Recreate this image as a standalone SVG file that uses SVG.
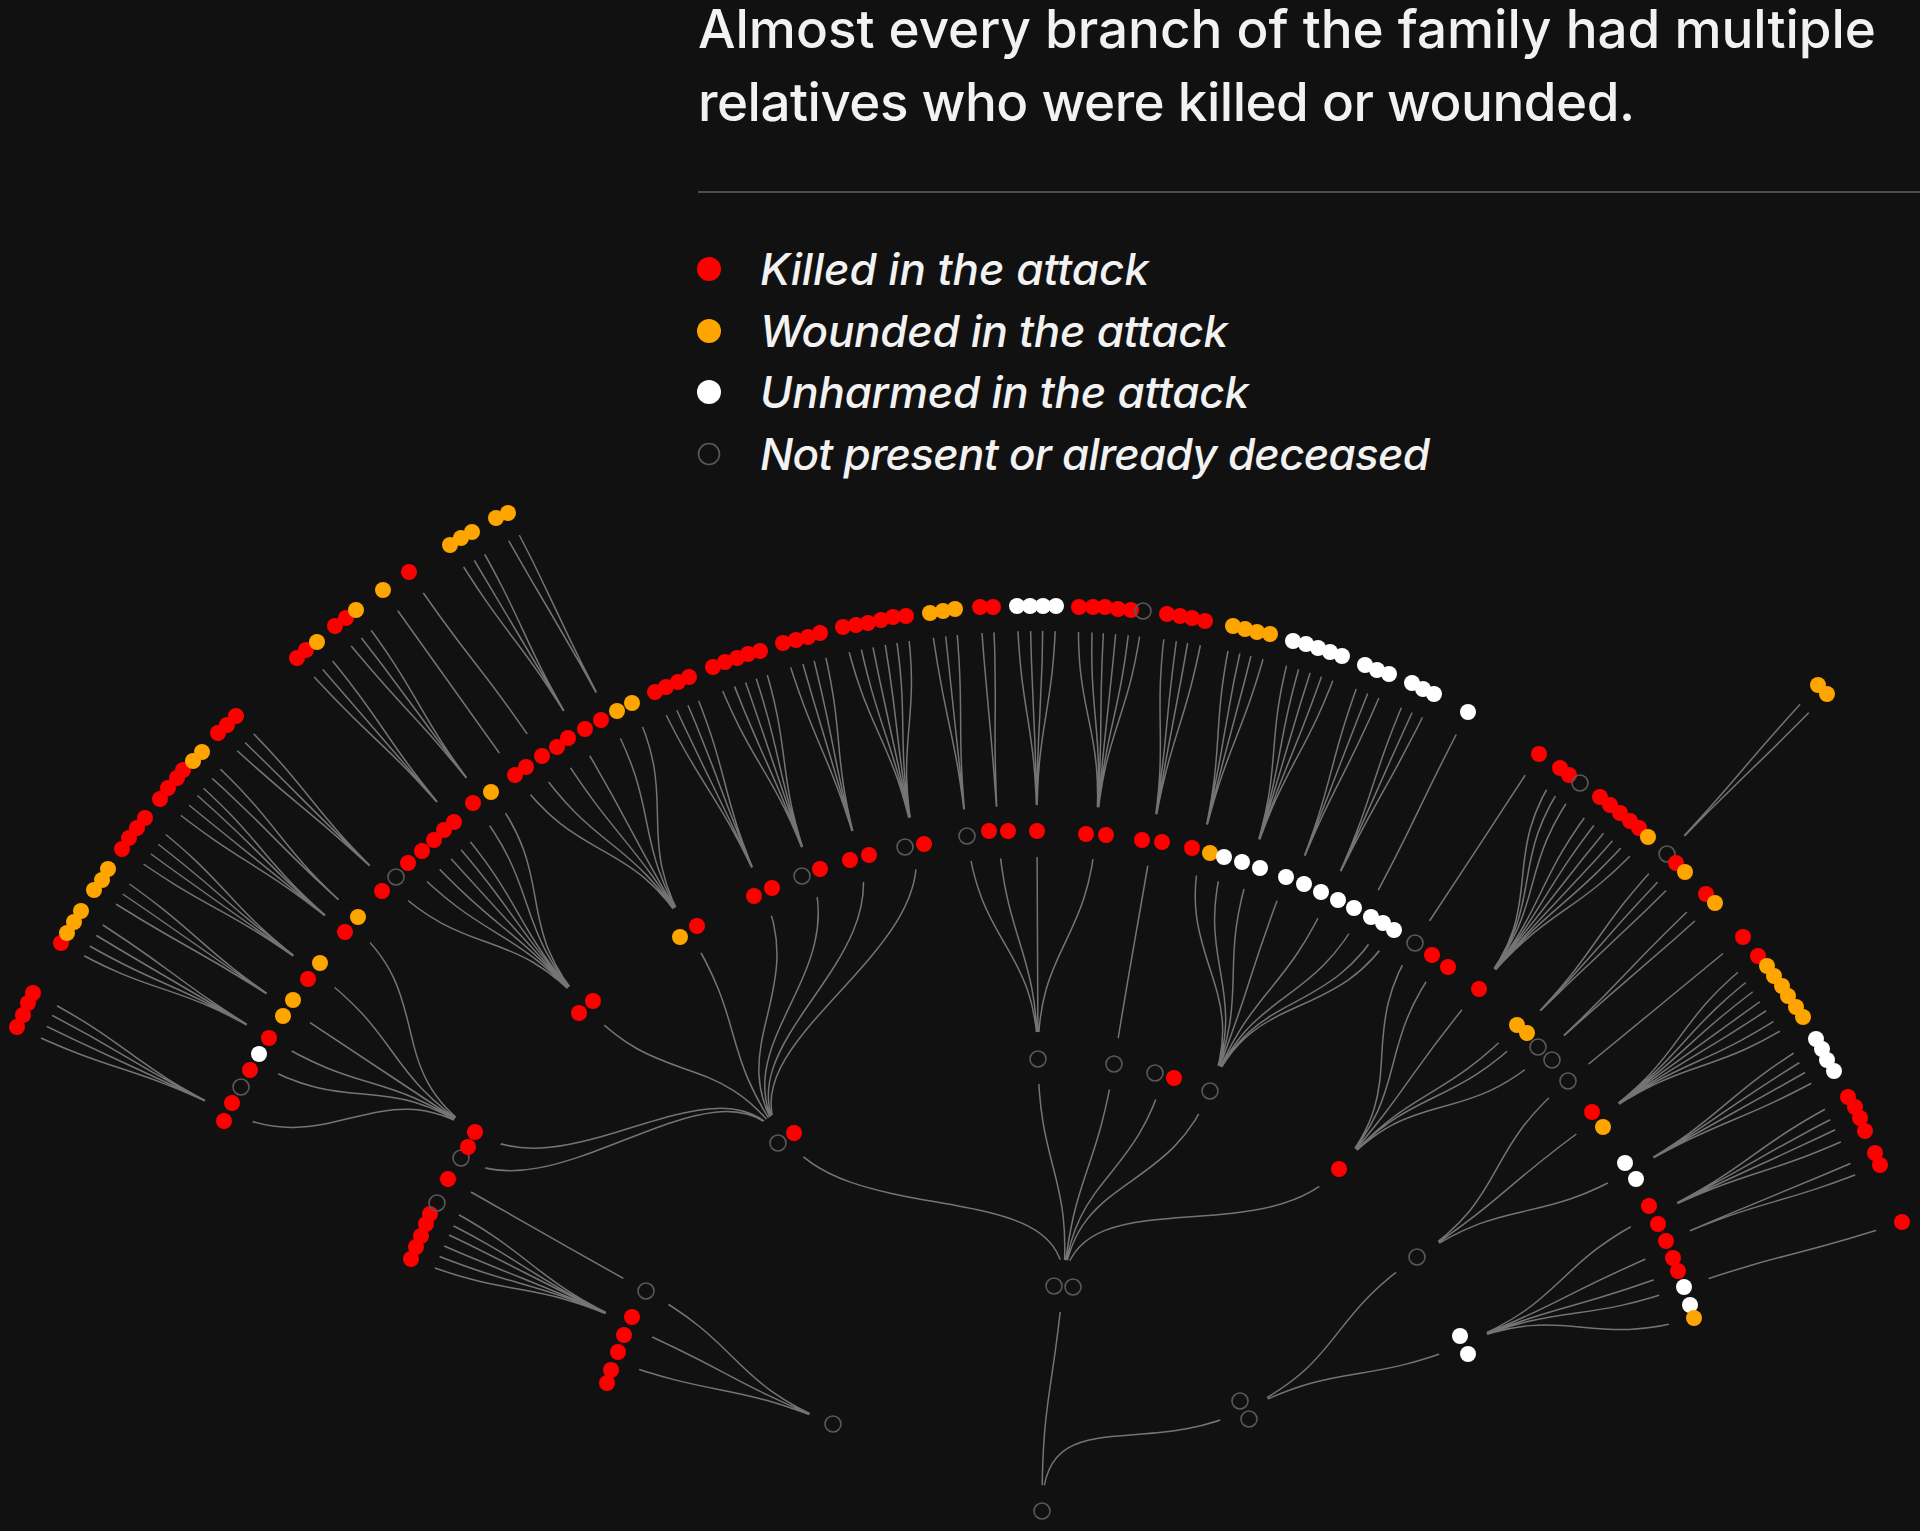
<svg xmlns="http://www.w3.org/2000/svg" width="1920" height="1531" viewBox="0 0 1920 1531">
<style>
.t{font-family:Inter,"Liberation Sans",Arial,sans-serif;font-weight:500;fill:#f2f2f2}
.lg{font-family:Inter,"Liberation Sans",Arial,sans-serif;font-weight:500;font-style:italic;fill:#f2f2f2;font-size:44px}
.r{fill:#ff0000}.o{fill:#ffa500}.w{fill:#ffffff}.h{fill:none;stroke:#595959;stroke-width:1.6}
.lk{fill:none;stroke:#808080;stroke-width:1.5;stroke-opacity:0.9}
</style>
<defs>
<mask id="gap" maskUnits="userSpaceOnUse" x="0" y="0" width="1920" height="1531">
<rect x="0" y="0" width="1920" height="1531" fill="#fff"/>
<g fill="none" stroke="#000" stroke-width="52">
<circle cx="1042" cy="1511" r="226"/><circle cx="1042" cy="1511" r="453"/><circle cx="1042" cy="1511" r="680"/><circle cx="1042" cy="1511" r="906"/><circle cx="1042" cy="1511" r="1133"/>
</g>
<circle cx="1042" cy="1511" r="26" fill="#000"/>
</mask>
</defs>
<rect width="1920" height="1531" fill="#111111"/>
<g id="title">
<text class="t" x="698" y="48" font-size="53" textLength="1178" lengthAdjust="spacing">Almost every branch of the family had multiple</text>
<text class="t" x="698" y="121" font-size="53" textLength="937" lengthAdjust="spacing">relatives who were killed or wounded.</text>
<line x1="698" y1="192" x2="1920" y2="192" stroke="#4d4d4d" stroke-width="2"/>
</g>
<g id="legend">
<g id="lg-killed"><circle cx="709" cy="269" r="12" class="r"/><text class="lg" x="760" y="285" textLength="389" lengthAdjust="spacing">Killed in the attack</text></g>
<g id="lg-wounded"><circle cx="709" cy="331" r="12" class="o"/><text class="lg" x="760" y="347" textLength="468" lengthAdjust="spacing">Wounded in the attack</text></g>
<g id="lg-unharmed"><circle cx="709" cy="392" r="12" class="w"/><text class="lg" x="760" y="408" textLength="489" lengthAdjust="spacing">Unharmed in the attack</text></g>
<g id="lg-absent"><circle cx="709" cy="454" r="10.5" class="h"/><text class="lg" x="760" y="470" textLength="670" lengthAdjust="spacing">Not present or already deceased</text></g>
</g>
<g id="connectors" mask="url(#gap)">
<g transform="translate(1042 1511)" class="lk">
<path d="M0 0C0 -113 10 -112 21 -225M0 0C0 -113 101 -50 202 -101"/>
<path d="M21 -225C31 -337 -192 -280 -256 -373M21 -225C31 -337 -3 -339 -4 -452M21 -225C31 -337 54 -335 72 -447M21 -225C31 -337 91 -327 122 -436M21 -225C31 -337 126 -315 168 -420M21 -225C31 -337 223 -256 297 -342"/>
<path d="M202 -101C303 -151 281 -190 375 -254M202 -101C303 -151 316 -124 422 -166"/>
<path d="M-209 -87C-313 -130 -297 -165 -396 -220M-209 -87C-313 -130 -310 -139 -414 -185M-209 -87C-313 -130 -321 -112 -428 -150"/>
<path d="M-259 -371C-324 -464 -472 -316 -567 -379M-259 -371C-324 -464 -484 -294 -581 -353M-259 -371C-324 -464 -380 -420 -456 -504M-259 -371C-324 -464 -294 -483 -353 -579M-259 -371C-324 -464 -232 -515 -279 -619M-259 -371C-324 -464 -192 -532 -231 -639M-259 -371C-324 -464 -152 -544 -182 -653M-259 -371C-324 -464 -106 -554 -127 -665"/>
<path d="M-4 -452C-5 -565 -62 -562 -75 -675M-4 -452C-5 -565 -36 -566 -44 -680M-4 -452C-5 -565 -4 -566 -5 -680M-4 -452C-5 -565 45 -564 54 -677"/>
<path d="M72 -447C90 -559 91 -558 110 -670"/>
<path d="M168 -420C210 -525 132 -551 159 -661M168 -420C210 -525 151 -545 182 -654M168 -420C210 -525 174 -538 209 -646M168 -420C210 -525 203 -528 244 -634M168 -420C210 -525 239 -512 287 -615M168 -420C210 -525 266 -499 320 -599M168 -420C210 -525 284 -490 341 -588M168 -420C210 -525 293 -484 352 -581"/>
<path d="M297 -342C371 -427 311 -473 373 -568M297 -342C371 -427 331 -458 398 -550M297 -342C371 -427 364 -435 437 -522M297 -342C371 -427 396 -405 475 -486M297 -342C371 -427 404 -398 485 -478M297 -342C371 -427 419 -381 503 -458"/>
<path d="M375 -254C469 -317 438 -358 526 -430M375 -254C469 -317 462 -326 555 -392M375 -254C469 -317 490 -283 588 -340"/>
<path d="M421 -168C526 -210 509 -246 611 -296M421 -168C526 -210 522 -218 627 -262M421 -168C526 -210 530 -200 636 -240M421 -168C526 -210 535 -186 642 -224M421 -168C526 -210 543 -161 652 -193"/>
<path d="M-396 -220C-495 -275 -495 -276 -594 -332"/>
<path d="M-412 -187C-515 -234 -504 -256 -605 -308M-412 -187C-515 -234 -510 -247 -612 -297M-412 -187C-515 -234 -513 -239 -616 -287M-412 -187C-515 -234 -517 -229 -621 -275M-412 -187C-515 -234 -521 -220 -626 -264M-412 -187C-515 -234 -526 -210 -631 -252"/>
<path d="M-567 -379C-661 -442 -604 -513 -690 -586M-567 -379C-661 -442 -637 -472 -728 -540M-567 -379C-661 -442 -660 -440 -754 -503M-567 -379C-661 -442 -676 -414 -773 -473M-567 -379C-661 -442 -689 -393 -787 -449M-567 -379C-661 -442 -712 -349 -814 -399"/>
<path d="M-456 -504C-532 -588 -571 -549 -653 -627M-456 -504C-532 -588 -555 -567 -634 -648M-456 -504C-532 -588 -542 -577 -620 -660M-456 -504C-532 -588 -532 -587 -608 -671M-456 -504C-532 -588 -523 -596 -598 -681M-456 -504C-532 -588 -514 -603 -588 -689M-456 -504C-532 -588 -498 -619 -569 -708M-456 -504C-532 -588 -482 -629 -551 -719"/>
<path d="M-353 -579C-412 -676 -461 -644 -527 -736M-353 -579C-412 -676 -444 -656 -508 -749M-353 -579C-412 -676 -424 -668 -485 -764M-353 -579C-412 -676 -407 -680 -465 -777M-353 -579C-412 -676 -379 -696 -433 -795M-353 -579C-412 -676 -359 -707 -410 -808"/>
<path d="M-279 -619C-325 -722 -339 -717 -387 -819M-279 -619C-325 -722 -329 -721 -376 -824M-279 -619C-325 -722 -318 -725 -364 -829M-279 -619C-325 -722 -309 -730 -353 -834"/>
<path d="M-231 -639C-269 -745 -288 -738 -329 -844M-231 -639C-269 -745 -277 -743 -317 -849M-231 -639C-269 -745 -267 -746 -305 -853M-231 -639C-269 -745 -257 -750 -294 -857M-231 -639C-269 -745 -247 -752 -282 -860"/>
<path d="M-182 -653C-213 -762 -226 -759 -259 -868M-182 -653C-213 -762 -215 -762 -246 -871M-182 -653C-213 -762 -205 -765 -234 -874M-182 -653C-213 -762 -194 -768 -222 -878"/>
<path d="M-127 -665C-149 -776 -174 -773 -199 -884M-127 -665C-149 -776 -163 -775 -186 -886M-127 -665C-149 -776 -152 -777 -174 -888M-127 -665C-149 -776 -141 -780 -161 -891M-127 -665C-149 -776 -130 -782 -149 -894M-127 -665C-149 -776 -119 -783 -136 -895"/>
<path d="M-75 -675C-87 -787 -98 -786 -112 -898M-75 -675C-87 -787 -87 -787 -99 -900M-75 -675C-87 -787 -76 -789 -87 -902"/>
<path d="M-44 -680C-51 -793 -54 -791 -62 -904M-44 -680C-51 -793 -43 -791 -49 -904"/>
<path d="M-5 -680C-6 -793 -22 -792 -25 -905M-5 -680C-6 -793 -10 -792 -12 -905M-5 -680C-6 -793 1 -792 1 -905M-5 -680C-6 -793 12 -792 14 -905"/>
<path d="M54 -677C63 -789 32 -791 37 -904M54 -677C63 -789 45 -791 51 -904M54 -677C63 -789 55 -791 63 -904M54 -677C63 -789 66 -789 76 -902M54 -677C63 -789 78 -788 89 -901M54 -677C63 -789 88 -787 101 -900"/>
<path d="M110 -670C128 -781 109 -785 125 -897M110 -670C128 -781 121 -783 138 -895M110 -670C128 -781 131 -781 150 -893M110 -670C128 -781 143 -779 163 -890"/>
<path d="M159 -661C185 -771 167 -774 191 -885M159 -661C185 -771 178 -772 203 -882M159 -661C185 -771 188 -769 215 -879M159 -661C185 -771 199 -767 228 -877"/>
<path d="M209 -646C244 -753 220 -761 251 -870M209 -646C244 -753 231 -759 264 -867M209 -646C244 -753 241 -755 276 -863M209 -646C244 -753 252 -752 288 -859M209 -646C244 -753 262 -748 300 -855"/>
<path d="M253 -631C295 -736 283 -740 323 -846M253 -631C295 -736 293 -736 335 -841M253 -631C295 -736 304 -732 347 -837"/>
<path d="M287 -615C335 -717 324 -724 370 -828M287 -615C335 -717 333 -719 381 -822M287 -615C335 -717 343 -715 392 -817"/>
<path d="M324 -598C378 -697 373 -699 426 -799"/>
<path d="M373 -568C435 -662 435 -662 497 -757"/>
<path d="M437 -522C509 -609 453 -650 518 -743M437 -522C509 -609 461 -644 527 -736M437 -522C509 -609 471 -637 538 -728M437 -522C509 -609 488 -625 558 -714M437 -522C509 -609 497 -618 568 -706M437 -522C509 -609 506 -611 578 -698M437 -522C509 -609 514 -604 588 -690M437 -522C509 -609 522 -598 597 -683M437 -522C509 -609 530 -590 606 -674"/>
<path d="M480 -482C560 -562 547 -575 625 -657M480 -482C560 -562 555 -567 634 -648M480 -482C560 -562 563 -559 643 -639"/>
<path d="M503 -458C586 -534 581 -540 664 -617M503 -458C586 -534 589 -532 673 -608"/>
<path d="M526 -430C613 -501 613 -502 701 -574"/>
<path d="M555 -392C647 -457 626 -486 716 -555M555 -392C647 -457 634 -477 725 -545M555 -392C647 -457 640 -468 732 -535M555 -392C647 -457 647 -459 740 -525M555 -392C647 -457 653 -451 746 -515M555 -392C647 -457 660 -441 754 -504M555 -392C647 -457 666 -432 761 -494"/>
<path d="M588 -340C686 -396 677 -413 774 -472M588 -340C686 -396 682 -404 780 -462M588 -340C686 -396 687 -395 785 -451M588 -340C686 -396 693 -385 792 -440"/>
<path d="M611 -296C712 -345 705 -362 806 -414M611 -296C712 -345 711 -353 813 -404M611 -296C712 -345 716 -344 818 -393M611 -296C712 -345 720 -332 823 -380"/>
<path d="M624 -270C727 -315 729 -313 833 -358M624 -270C727 -315 733 -303 838 -346"/>
<path d="M642 -224C748 -261 752 -253 860 -289"/>
<path d="M-814 -399C-916 -449 -908 -466 -1009 -518M-814 -399C-916 -449 -912 -457 -1014 -508M-814 -399C-916 -449 -917 -446 -1019 -496M-814 -399C-916 -449 -922 -435 -1025 -484"/>
<path d="M-773 -473C-870 -532 -883 -511 -981 -568M-773 -473C-870 -532 -877 -520 -975 -578M-773 -473C-870 -532 -871 -530 -968 -589M-773 -473C-870 -532 -865 -540 -961 -600"/>
<path d="M-754 -503C-848 -566 -853 -559 -948 -621M-754 -503C-848 -566 -846 -568 -940 -631M-754 -503C-848 -566 -840 -578 -934 -642"/>
<path d="M-728 -540C-819 -607 -828 -596 -920 -662M-728 -540C-819 -607 -822 -606 -913 -673M-728 -540C-819 -607 -814 -615 -905 -683M-728 -540C-819 -607 -807 -624 -897 -693"/>
<path d="M-697 -579C-784 -651 -794 -641 -882 -712M-697 -579C-784 -651 -786 -651 -874 -723M-697 -579C-784 -651 -778 -660 -865 -733M-697 -579C-784 -651 -773 -667 -859 -741"/>
<path d="M-684 -594C-769 -668 -764 -675 -849 -750M-684 -594C-769 -668 -756 -683 -840 -759"/>
<path d="M-653 -627C-735 -705 -741 -700 -824 -778M-653 -627C-735 -705 -733 -707 -815 -786M-653 -627C-735 -705 -725 -715 -806 -795"/>
<path d="M-588 -689C-661 -775 -670 -768 -745 -853M-588 -689C-661 -775 -662 -775 -736 -861M-588 -689C-661 -775 -652 -782 -725 -869"/>
<path d="M-560 -713C-630 -803 -636 -796 -707 -885M-560 -713C-630 -803 -626 -804 -696 -893M-560 -713C-630 -803 -617 -811 -686 -901"/>
<path d="M-527 -736C-593 -828 -593 -829 -659 -921"/>
<path d="M-500 -755C-562 -849 -570 -845 -633 -939"/>
<path d="M-465 -778C-523 -875 -533 -869 -592 -966M-465 -778C-523 -875 -523 -876 -581 -973M-465 -778C-523 -875 -513 -881 -570 -979"/>
<path d="M-433 -795C-487 -895 -491 -894 -546 -993M-433 -795C-487 -895 -481 -898 -534 -998"/>
<path d="M625 -657C703 -739 698 -743 776 -826M625 -657C703 -739 706 -735 785 -817"/>
</g>
</g>
<g id="nodes">
<g id="root"><circle class="h" cx="1042" cy="1511" r="8"/></g>
<g id="g3">
<g id="a1"><circle class="h" cx="1054" cy="1286" r="8"/></g><g id="a2"><circle class="h" cx="1073" cy="1287" r="8"/></g>
<g id="b1"><circle class="h" cx="1240" cy="1401" r="8"/></g><g id="b2"><circle class="h" cx="1249" cy="1419" r="8"/></g>
<g id="d1"><circle class="h" cx="833" cy="1424" r="8"/></g>
</g>
<g id="g2">
<g id="c1a"><circle class="h" cx="778" cy="1143" r="8"/></g><g id="c1b"><circle class="r" cx="794" cy="1133" r="8"/></g>
<g id="e1"><circle class="h" cx="1038" cy="1059" r="8"/></g>
<g id="e2"><circle class="h" cx="1114" cy="1064" r="8"/></g>
<g id="e3"><circle class="h" cx="1155" cy="1073" r="8"/></g><g id="e4"><circle class="r" cx="1174" cy="1078" r="8"/></g>
<g id="e5"><circle class="h" cx="1210" cy="1091" r="8"/></g>
<g id="e6"><circle class="r" cx="1339" cy="1169" r="8"/></g>
<g id="f1"><circle class="h" cx="1417" cy="1257" r="8"/></g>
<g id="f2"><circle class="w" cx="1460" cy="1336" r="8"/></g><g id="f3"><circle class="w" cx="1468" cy="1354" r="8"/></g>
<g id="h1"><circle class="h" cx="646" cy="1291" r="8"/></g>
<g id="h2"><circle class="r" cx="632" cy="1317" r="8"/></g><g id="h3"><circle class="r" cx="624" cy="1335" r="8"/></g><g id="h4"><circle class="r" cx="618" cy="1352" r="8"/></g><g id="h5"><circle class="r" cx="611" cy="1370" r="8"/></g><g id="h6"><circle class="r" cx="607" cy="1383" r="8"/></g>
</g>
<g id="g1">
<g id="i01"><circle class="r" cx="411" cy="1259" r="8"/></g><g id="i02"><circle class="r" cx="416" cy="1247" r="8"/></g><g id="i03"><circle class="r" cx="421" cy="1236" r="8"/></g><g id="i04"><circle class="r" cx="426" cy="1224" r="8"/></g><g id="i05"><circle class="r" cx="430" cy="1214" r="8"/></g>
<g id="i06"><circle class="h" cx="437" cy="1203" r="8"/></g><g id="i07"><circle class="r" cx="448" cy="1179" r="8"/></g><g id="i08"><circle class="h" cx="461" cy="1158" r="8"/></g><g id="i09"><circle class="r" cx="468" cy="1147" r="8"/></g><g id="i10"><circle class="r" cx="475" cy="1132" r="8"/></g>
<g id="i11"><circle class="r" cx="579" cy="1013" r="8"/></g><g id="i12"><circle class="r" cx="593" cy="1001" r="8"/></g>
<g id="i13"><circle class="o" cx="680" cy="937" r="8"/></g><g id="i14"><circle class="r" cx="697" cy="926" r="8"/></g>
<g id="i15"><circle class="r" cx="754" cy="896" r="8"/></g><g id="i16"><circle class="r" cx="772" cy="888" r="8"/></g>
<g id="i17"><circle class="h" cx="802" cy="876" r="8"/></g><g id="i18"><circle class="r" cx="820" cy="869" r="8"/></g>
<g id="i19"><circle class="r" cx="850" cy="860" r="8"/></g><g id="i20"><circle class="r" cx="869" cy="855" r="8"/></g>
<g id="i21"><circle class="h" cx="905" cy="847" r="8"/></g><g id="i22"><circle class="r" cx="924" cy="844" r="8"/></g>
<g id="i23"><circle class="h" cx="967" cy="836" r="8"/></g>
<g id="i24"><circle class="r" cx="989" cy="831" r="8"/></g><g id="i25"><circle class="r" cx="1008" cy="831" r="8"/></g><g id="i26"><circle class="r" cx="1037" cy="831" r="8"/></g>
<g id="i27"><circle class="r" cx="1086" cy="834" r="8"/></g><g id="i28"><circle class="r" cx="1106" cy="835" r="8"/></g>
<g id="i29"><circle class="r" cx="1142" cy="840" r="8"/></g><g id="i30"><circle class="r" cx="1162" cy="842" r="8"/></g>
<g id="i31"><circle class="r" cx="1192" cy="848" r="8"/></g><g id="i32"><circle class="o" cx="1210" cy="853" r="8"/></g>
<g id="i33"><circle class="w" cx="1224" cy="857" r="8"/></g><g id="i34"><circle class="w" cx="1242" cy="862" r="8"/></g><g id="i35"><circle class="w" cx="1260" cy="868" r="8"/></g><g id="i36"><circle class="w" cx="1286" cy="877" r="8"/></g><g id="i37"><circle class="w" cx="1304" cy="884" r="8"/></g><g id="i38"><circle class="w" cx="1321" cy="892" r="8"/></g><g id="i39"><circle class="w" cx="1338" cy="900" r="8"/></g><g id="i40"><circle class="w" cx="1354" cy="908" r="8"/></g><g id="i41"><circle class="w" cx="1371" cy="917" r="8"/></g><g id="i42"><circle class="w" cx="1383" cy="923" r="8"/></g><g id="i43"><circle class="w" cx="1394" cy="930" r="8"/></g>
<g id="i44"><circle class="h" cx="1415" cy="943" r="8"/></g><g id="i45"><circle class="r" cx="1432" cy="955" r="8"/></g><g id="i46"><circle class="r" cx="1448" cy="967" r="8"/></g><g id="i47"><circle class="r" cx="1479" cy="989" r="8"/></g>
<g id="i48"><circle class="o" cx="1517" cy="1025" r="8"/></g><g id="i49"><circle class="o" cx="1527" cy="1033" r="8"/></g>
<g id="i50"><circle class="h" cx="1538" cy="1047" r="8"/></g><g id="i51"><circle class="h" cx="1552" cy="1060" r="8"/></g><g id="i52"><circle class="h" cx="1568" cy="1081" r="8"/></g>
<g id="i53"><circle class="r" cx="1592" cy="1112" r="8"/></g><g id="i54"><circle class="o" cx="1603" cy="1127" r="8"/></g>
<g id="i55"><circle class="w" cx="1625" cy="1163" r="8"/></g><g id="i56"><circle class="w" cx="1636" cy="1179" r="8"/></g>
<g id="i57"><circle class="r" cx="1649" cy="1206" r="8"/></g><g id="i58"><circle class="r" cx="1658" cy="1224" r="8"/></g><g id="i59"><circle class="r" cx="1666" cy="1241" r="8"/></g><g id="i60"><circle class="r" cx="1673" cy="1258" r="8"/></g><g id="i61"><circle class="r" cx="1678" cy="1271" r="8"/></g>
<g id="i62"><circle class="w" cx="1684" cy="1287" r="8"/></g><g id="i63"><circle class="w" cx="1690" cy="1305" r="8"/></g><g id="i64"><circle class="o" cx="1694" cy="1318" r="8"/></g>
</g>
<g id="gm">
<g id="m01"><circle class="r" cx="224" cy="1121" r="8"/></g><g id="m02"><circle class="r" cx="232" cy="1103" r="8"/></g><g id="m03"><circle class="h" cx="241" cy="1087" r="8"/></g><g id="m04"><circle class="r" cx="250" cy="1070" r="8"/></g><g id="m05"><circle class="w" cx="259" cy="1054" r="8"/></g><g id="m06"><circle class="r" cx="269" cy="1038" r="8"/></g>
<g id="m07"><circle class="o" cx="283" cy="1016" r="8"/></g><g id="m08"><circle class="o" cx="293" cy="1000" r="8"/></g><g id="m09"><circle class="r" cx="308" cy="979" r="8"/></g><g id="m10"><circle class="o" cx="320" cy="963" r="8"/></g><g id="m11"><circle class="r" cx="345" cy="932" r="8"/></g><g id="m12"><circle class="o" cx="358" cy="917" r="8"/></g>
<g id="m13"><circle class="r" cx="382" cy="891" r="8"/></g><g id="m14"><circle class="h" cx="396" cy="877" r="8"/></g><g id="m15"><circle class="r" cx="408" cy="863" r="8"/></g><g id="m16"><circle class="r" cx="422" cy="851" r="8"/></g><g id="m17"><circle class="r" cx="434" cy="840" r="8"/></g><g id="m18"><circle class="r" cx="444" cy="830" r="8"/></g><g id="m19"><circle class="r" cx="454" cy="822" r="8"/></g><g id="m20"><circle class="r" cx="473" cy="803" r="8"/></g><g id="m21"><circle class="o" cx="491" cy="792" r="8"/></g>
<g id="m22"><circle class="r" cx="515" cy="775" r="8"/></g><g id="m23"><circle class="r" cx="526" cy="767" r="8"/></g><g id="m24"><circle class="r" cx="542" cy="756" r="8"/></g><g id="m25"><circle class="r" cx="557" cy="747" r="8"/></g><g id="m26"><circle class="r" cx="568" cy="738" r="8"/></g><g id="m27"><circle class="r" cx="585" cy="729" r="8"/></g><g id="m28"><circle class="r" cx="601" cy="720" r="8"/></g><g id="m29"><circle class="o" cx="617" cy="711" r="8"/></g><g id="m30"><circle class="o" cx="632" cy="703" r="8"/></g>
<g id="m31"><circle class="r" cx="655" cy="692" r="8"/></g><g id="m32"><circle class="r" cx="666" cy="687" r="8"/></g><g id="m33"><circle class="r" cx="678" cy="682" r="8"/></g><g id="m34"><circle class="r" cx="689" cy="677" r="8"/></g>
<g id="m35"><circle class="r" cx="713" cy="667" r="8"/></g><g id="m36"><circle class="r" cx="725" cy="662" r="8"/></g><g id="m37"><circle class="r" cx="737" cy="658" r="8"/></g><g id="m38"><circle class="r" cx="748" cy="654" r="8"/></g><g id="m39"><circle class="r" cx="760" cy="651" r="8"/></g>
<g id="m40"><circle class="r" cx="783" cy="643" r="8"/></g><g id="m41"><circle class="r" cx="796" cy="640" r="8"/></g><g id="m42"><circle class="r" cx="808" cy="637" r="8"/></g><g id="m43"><circle class="r" cx="820" cy="633" r="8"/></g>
<g id="m44"><circle class="r" cx="843" cy="627" r="8"/></g><g id="m45"><circle class="r" cx="856" cy="625" r="8"/></g><g id="m46"><circle class="r" cx="868" cy="623" r="8"/></g><g id="m47"><circle class="r" cx="881" cy="620" r="8"/></g><g id="m48"><circle class="r" cx="893" cy="617" r="8"/></g><g id="m49"><circle class="r" cx="906" cy="616" r="8"/></g>
<g id="m50"><circle class="o" cx="930" cy="613" r="8"/></g><g id="m51"><circle class="o" cx="943" cy="611" r="8"/></g><g id="m52"><circle class="o" cx="955" cy="609" r="8"/></g>
<g id="m53"><circle class="r" cx="980" cy="607" r="8"/></g><g id="m54"><circle class="r" cx="993" cy="607" r="8"/></g>
<g id="m55"><circle class="w" cx="1017" cy="606" r="8"/></g><g id="m56"><circle class="w" cx="1030" cy="606" r="8"/></g><g id="m57"><circle class="w" cx="1043" cy="606" r="8"/></g><g id="m58"><circle class="w" cx="1056" cy="606" r="8"/></g>
<g id="m59"><circle class="r" cx="1079" cy="607" r="8"/></g><g id="m60"><circle class="r" cx="1093" cy="607" r="8"/></g><g id="m61"><circle class="r" cx="1105" cy="607" r="8"/></g><g id="m62"><circle class="r" cx="1118" cy="609" r="8"/></g><g id="m63"><circle class="r" cx="1131" cy="610" r="8"/></g><g id="m64"><circle class="h" cx="1143" cy="611" r="8"/></g>
<g id="m65"><circle class="r" cx="1167" cy="614" r="8"/></g><g id="m66"><circle class="r" cx="1180" cy="616" r="8"/></g><g id="m67"><circle class="r" cx="1192" cy="618" r="8"/></g><g id="m68"><circle class="r" cx="1205" cy="621" r="8"/></g>
<g id="m69"><circle class="o" cx="1233" cy="626" r="8"/></g><g id="m70"><circle class="o" cx="1245" cy="629" r="8"/></g><g id="m71"><circle class="o" cx="1257" cy="632" r="8"/></g><g id="m72"><circle class="o" cx="1270" cy="634" r="8"/></g>
<g id="m73"><circle class="w" cx="1293" cy="641" r="8"/></g><g id="m74"><circle class="w" cx="1306" cy="644" r="8"/></g><g id="m75"><circle class="w" cx="1318" cy="648" r="8"/></g><g id="m76"><circle class="w" cx="1330" cy="652" r="8"/></g><g id="m77"><circle class="w" cx="1342" cy="656" r="8"/></g>
<g id="m78"><circle class="w" cx="1365" cy="665" r="8"/></g><g id="m79"><circle class="w" cx="1377" cy="670" r="8"/></g><g id="m80"><circle class="w" cx="1389" cy="674" r="8"/></g>
<g id="m81"><circle class="w" cx="1412" cy="683" r="8"/></g><g id="m82"><circle class="w" cx="1423" cy="689" r="8"/></g><g id="m83"><circle class="w" cx="1434" cy="694" r="8"/></g><g id="m84"><circle class="w" cx="1468" cy="712" r="8"/></g>
<g id="m85"><circle class="r" cx="1539" cy="754" r="8"/></g><g id="m86"><circle class="r" cx="1560" cy="768" r="8"/></g><g id="m87"><circle class="r" cx="1569" cy="775" r="8"/></g><g id="m88"><circle class="h" cx="1580" cy="783" r="8"/></g>
<g id="m89"><circle class="r" cx="1600" cy="797" r="8"/></g><g id="m90"><circle class="r" cx="1610" cy="805" r="8"/></g><g id="m91"><circle class="r" cx="1620" cy="813" r="8"/></g><g id="m92"><circle class="r" cx="1630" cy="821" r="8"/></g><g id="m93"><circle class="r" cx="1639" cy="828" r="8"/></g><g id="m94"><circle class="o" cx="1648" cy="837" r="8"/></g>
<g id="m95"><circle class="h" cx="1667" cy="854" r="8"/></g><g id="m96"><circle class="r" cx="1676" cy="863" r="8"/></g><g id="m97"><circle class="o" cx="1685" cy="872" r="8"/></g>
<g id="m98"><circle class="r" cx="1706" cy="894" r="8"/></g><g id="m99"><circle class="o" cx="1715" cy="903" r="8"/></g><g id="m100"><circle class="r" cx="1743" cy="937" r="8"/></g>
<g id="m101"><circle class="r" cx="1758" cy="956" r="8"/></g><g id="m102"><circle class="o" cx="1767" cy="966" r="8"/></g><g id="m103"><circle class="o" cx="1774" cy="976" r="8"/></g><g id="m104"><circle class="o" cx="1782" cy="986" r="8"/></g><g id="m105"><circle class="o" cx="1788" cy="996" r="8"/></g><g id="m106"><circle class="o" cx="1796" cy="1007" r="8"/></g><g id="m107"><circle class="o" cx="1803" cy="1017" r="8"/></g>
<g id="m108"><circle class="w" cx="1816" cy="1039" r="8"/></g><g id="m109"><circle class="w" cx="1822" cy="1049" r="8"/></g><g id="m110"><circle class="w" cx="1827" cy="1060" r="8"/></g><g id="m111"><circle class="w" cx="1834" cy="1071" r="8"/></g>
<g id="m112"><circle class="r" cx="1848" cy="1097" r="8"/></g><g id="m113"><circle class="r" cx="1855" cy="1107" r="8"/></g><g id="m114"><circle class="r" cx="1860" cy="1118" r="8"/></g><g id="m115"><circle class="r" cx="1865" cy="1131" r="8"/></g>
<g id="m116"><circle class="r" cx="1875" cy="1153" r="8"/></g><g id="m117"><circle class="r" cx="1880" cy="1165" r="8"/></g><g id="m118"><circle class="r" cx="1902" cy="1222" r="8"/></g>
</g>
<g id="go">
<g id="o01"><circle class="r" cx="33" cy="993" r="8"/></g><g id="o02"><circle class="r" cx="28" cy="1003" r="8"/></g><g id="o03"><circle class="r" cx="23" cy="1015" r="8"/></g><g id="o04"><circle class="r" cx="17" cy="1027" r="8"/></g>
<g id="o05"><circle class="r" cx="61" cy="943" r="8"/></g><g id="o06"><circle class="o" cx="67" cy="933" r="8"/></g><g id="o07"><circle class="o" cx="74" cy="922" r="8"/></g><g id="o08"><circle class="o" cx="81" cy="911" r="8"/></g>
<g id="o09"><circle class="o" cx="94" cy="890" r="8"/></g><g id="o10"><circle class="o" cx="102" cy="880" r="8"/></g><g id="o11"><circle class="o" cx="108" cy="869" r="8"/></g>
<g id="o12"><circle class="r" cx="122" cy="849" r="8"/></g><g id="o13"><circle class="r" cx="129" cy="838" r="8"/></g><g id="o14"><circle class="r" cx="137" cy="828" r="8"/></g><g id="o15"><circle class="r" cx="145" cy="818" r="8"/></g>
<g id="o16"><circle class="r" cx="160" cy="799" r="8"/></g><g id="o17"><circle class="r" cx="168" cy="788" r="8"/></g><g id="o18"><circle class="r" cx="177" cy="778" r="8"/></g><g id="o19"><circle class="r" cx="183" cy="770" r="8"/></g>
<g id="o20"><circle class="o" cx="193" cy="761" r="8"/></g><g id="o21"><circle class="o" cx="202" cy="752" r="8"/></g>
<g id="o22"><circle class="r" cx="218" cy="733" r="8"/></g><g id="o23"><circle class="r" cx="227" cy="725" r="8"/></g><g id="o24"><circle class="r" cx="236" cy="716" r="8"/></g>
<g id="o25"><circle class="r" cx="297" cy="658" r="8"/></g><g id="o26"><circle class="r" cx="306" cy="650" r="8"/></g><g id="o27"><circle class="o" cx="317" cy="642" r="8"/></g>
<g id="o28"><circle class="r" cx="335" cy="626" r="8"/></g><g id="o29"><circle class="r" cx="346" cy="618" r="8"/></g><g id="o30"><circle class="o" cx="356" cy="610" r="8"/></g>
<g id="o31"><circle class="o" cx="383" cy="590" r="8"/></g><g id="o32"><circle class="r" cx="409" cy="572" r="8"/></g>
<g id="o33"><circle class="o" cx="450" cy="545" r="8"/></g><g id="o34"><circle class="o" cx="461" cy="538" r="8"/></g><g id="o35"><circle class="o" cx="472" cy="532" r="8"/></g>
<g id="o36"><circle class="o" cx="496" cy="518" r="8"/></g><g id="o37"><circle class="o" cx="508" cy="513" r="8"/></g>
<g id="o38"><circle class="o" cx="1818" cy="685" r="8"/></g><g id="o39"><circle class="o" cx="1827" cy="694" r="8"/></g>
</g>
</g>
</svg>
